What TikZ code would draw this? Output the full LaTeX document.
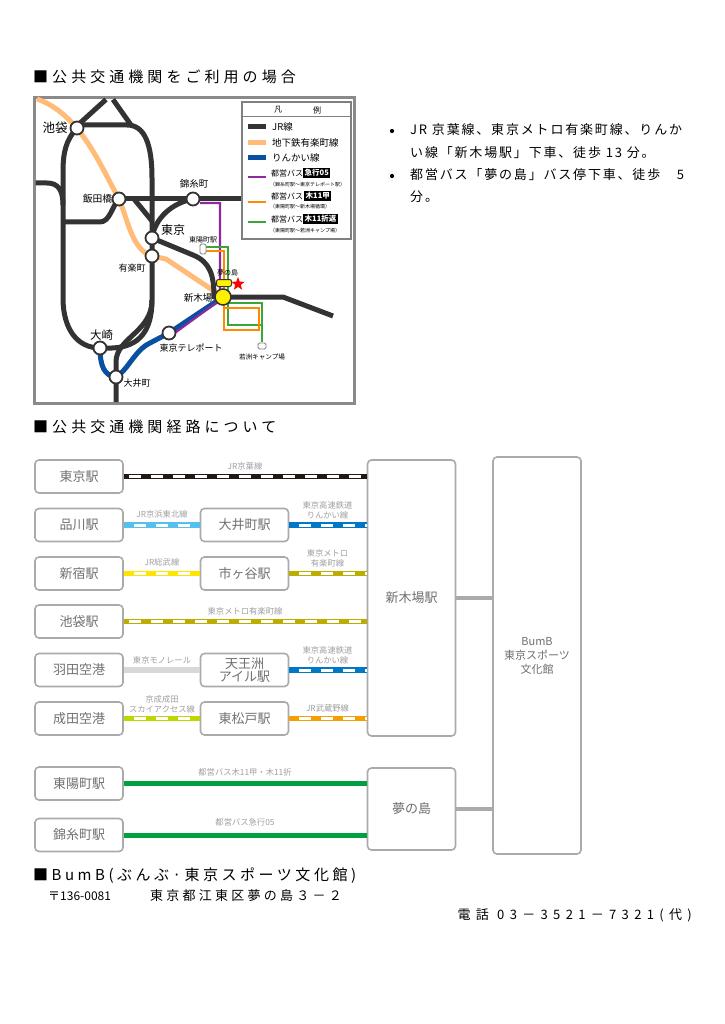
\documentclass[tikz,border=0pt]{standalone}
\usepackage{fontspec}
\setmainfont{Noto Sans CJK JP}
\newfontfamily\hfont[LetterSpace=27]{Noto Sans CJK JP}
\newfontfamily\hfontb[LetterSpace=23.5]{Noto Sans CJK JP}
\newfontfamily\bfont[LetterSpace=14]{Noto Sans CJK JP}
\newfontfamily\afont[LetterSpace=25]{Noto Sans CJK JP}
\newfontfamily\tfont[LetterSpace=41]{Noto Sans CJK JP}
\usetikzlibrary{shapes.geometric}
\newcommand{\fsz}[1]{\fontsize{#1pt}{#1pt}\selectfont}
\definecolor{jr}{HTML}{333333}
\definecolor{yura}{HTML}{FFBB77}
\definecolor{rinkai}{HTML}{0A50A0}
\definecolor{bpurple}{HTML}{8E2A9E}
\definecolor{borange}{HTML}{FF8A00}
\definecolor{bgreen}{HTML}{3AA53A}
\definecolor{framec}{HTML}{8A8A8A}
\definecolor{boxg}{HTML}{AAAAAA}
\definecolor{txtg}{HTML}{707070}
\definecolor{lblg}{HTML}{A0A0A0}
\definecolor{kblack}{HTML}{231815}
\definecolor{kht}{HTML}{55C0EE}
\definecolor{rblue}{HTML}{0078C8}
\definecolor{sobu}{HTML}{FFE400}
\definecolor{yuraku}{HTML}{BBAE00}
\definecolor{mono}{HTML}{D8D8D8}
\definecolor{skya}{HTML}{BFD600}
\definecolor{musa}{HTML}{F6A000}
\definecolor{busg}{HTML}{00A040}
\tikzset{
  jrl/.style={jr, line width=5pt, line join=round},
  busl/.style={line width=2.2pt, line join=miter},
  stn/.style={circle, draw=jr, fill=white, line width=1.8pt, minimum size=13pt, inner sep=0},
  mlbl/.style={inner sep=0, text=black},
  sbox/.style={draw=boxg, line width=1.6pt, rounded corners=4pt, fill=white, minimum width=88pt, minimum height=33pt, text=txtg, font=\fontsize{13pt}{13pt}\selectfont, align=center, inner sep=0},
  rail/.style={line width=5.5pt},
  railw/.style={draw=white, line width=3pt, dash pattern=on 12pt off 10pt},
  lbl/.style={text=lblg, font=\fontsize{8.3pt}{10pt}\selectfont, align=center, inner sep=0},
  tagbox/.style={fill=black, text=white, font=\fsz{7.5}\bfseries, inner xsep=1.5pt, inner ysep=1pt, minimum height=9pt},
  lgtxt/.style={anchor=west, inner sep=0, font=\fsz{9.5}},
  lgsm/.style={anchor=west, inner sep=0, font=\fsz{5}},
  bdot/.style={circle, fill=black, minimum size=4.2pt, inner sep=0}
}
\begin{document}
\begin{tikzpicture}[x=1pt,y=-1pt]
\useasboundingbox (0,0) rectangle (724,1024);
\fill[white] (0,0) rectangle (724,1024);

% ---------- headings ----------
\node[anchor=west, inner sep=0] (h1) at (33,77) {\hfont\fsz{15}■公共交通機関をご利用の場合};
\node[anchor=west, inner sep=0] (h2) at (33,427) {\hfont\fsz{15}■公共交通機関経路について};

% ---------- map ----------
\draw[framec, line width=3pt, fill=white] (34.5,98) rectangle (354.5,403.5);

\coordinate (pIke) at (77,128);
\coordinate (pIid) at (119,199);
\coordinate (pKin) at (193,199);
\coordinate (pTok) at (152,238);
\coordinate (pYur) at (152,256);
\coordinate (pShk) at (223,297);
\coordinate (pOsa) at (100,348);
\coordinate (pOim) at (116,377);
\coordinate (pTel) at (169,333);

% Yurakucho (orange)
\draw[yura, line width=5pt, line join=round] (37,99) .. controls (80,114) and (100,165) .. (pIid) .. controls (128,220) and (132,250) .. (pYur) -- (166,259) -- (pShk);

% JR lines
\draw[jrl] (pIke) .. controls (66,140) and (63,152) .. (63,172) -- (63,298) .. controls (63,330) and (78,348) .. (pOsa) -- (112,348) .. controls (140,347) and (152,330) .. (152,300) -- (152,178) .. controls (152,145) and (145,125) .. (127,125) -- (82,125);
\draw[jrl] (79,124) -- (106,99.5);
\draw[jrl] (113,99.5) -- (131,125);
\draw[jrl] (152,300) .. controls (152,332) and (116,338) .. (116,362) -- (116,402);
\draw[jrl] (35.5,183) -- (47,183) .. controls (58,183) and (63,190) .. (63,205);
\draw[jrl] (63,222) -- (100,222) .. controls (110,222) and (112,206) .. (pIid);
\draw[jrl] (pIid) -- (243,199);
\draw[jrl] (134,199) -- (152,221);
\draw[jrl] (pKin) .. controls (172,203) and (155,218) .. (pTok);
\draw[jrl] (pTok) -- (193,255) .. controls (210,262) and (214,275) .. (214,297) -- (pShk);
\draw[jrl] (pShk) -- (283,297) -- (333,316);

% Rinkai (blue)
\draw[rinkai, line width=5pt, line join=round] (pShk) -- (pTel) -- (150,343) .. controls (135,350) and (128,370) .. (pOim) .. controls (104,376) and (100,365) .. (pOsa);

% Buses
\draw[bpurple, busl] (200,203) -- (220,203) -- (220,300) -- (172,335);
\draw[bgreen, busl] (206,247) -- (228,247) -- (228,325) -- (262,325) -- (262,303) -- (228,303);
\draw[bgreen, busl] (262,325) -- (262,342);
\draw[borange, busl] (206,251) -- (224,251) -- (224,330) -- (259,330) -- (259,308) -- (224,308);

% stops
\node[draw=gray, fill=white, rounded corners=1.5pt, minimum width=6pt, minimum height=10pt, inner sep=0, line width=0.8pt] (stopT) at (203,249) {};
\node[draw=jr, fill=yellow, rounded corners=2pt, minimum width=15pt, minimum height=7pt, inner sep=0, line width=1pt] (stopY) at (224,283) {};
\node[draw=gray, fill=white, rounded corners=1.5pt, minimum width=8pt, minimum height=6pt, inner sep=0, line width=0.8pt] (stopW) at (262,346) {};

% stations
\node[stn] (ike) at (pIke) {};
\node[stn] (iid) at (pIid) {};
\node[stn] (kin) at (pKin) {};
\node[stn] (tok) at (pTok) {};
\node[stn] (yur) at (pYur) {};
\node[stn] (osa) at (pOsa) {};
\node[stn] (oim) at (pOim) {};
\node[stn] (tel) at (pTel) {};
\node[circle, draw=jr, fill=yellow, minimum size=16pt, line width=1.5pt, inner sep=0] (shk) at (pShk) {};
\node[star, star points=5, star point ratio=2.4, fill=red, minimum size=14pt, inner sep=0] (star) at (238,284) {};

% map labels
\node[mlbl, font=\fsz{12.5}] (lIke) at (55,128) {池袋};
\node[mlbl, font=\fsz{9.8}] (lIid) at (97.5,199) {飯田橋};
\node[mlbl, font=\fsz{9.5}] (lKin) at (194,184) {錦糸町};
\node[mlbl, font=\fsz{12}] (lTok) at (173,230) {東京};
\node[mlbl, font=\fsz{7}] (lToyo) at (203,240) {東陽町駅};
\node[mlbl, font=\fsz{9}] (lYur) at (132,268) {有楽町};
\node[mlbl, font=\fsz{7}] (lYume) at (227.5,273) {夢の島};
\node[mlbl, font=\fsz{9.5}] (lShk) at (198,298) {新木場};
\node[mlbl, font=\fsz{11.5}] (lOsa) at (101.5,335) {大崎};
\node[mlbl, font=\fsz{9}] (lOim) at (137,383) {大井町};
\node[mlbl, font=\fsz{9}] (lTel) at (191,348) {東京テレポート};
\node[mlbl, font=\fsz{6.6}] (lWak) at (262,357) {若洲キャンプ場};

% legend
\draw[gray, line width=1.3pt, fill=white] (242,102) rectangle (351,239);
\draw[gray, line width=1pt] (242,116.5) -- (351,116.5);
\node[inner sep=0, font=\fsz{8}] (lg1) at (278,110) {凡};
\node[inner sep=0, font=\fsz{8}] (lg2) at (317,110) {例};
\draw[jr, line width=5pt] (248,127) -- (266,127);
\node[lgtxt] (lgJR) at (272,127) {JR線};
\draw[yura, line width=5pt] (248,143) -- (266,143);
\node[lgtxt] (lgYu) at (272,143) {地下鉄有楽町線};
\draw[rinkai, line width=5pt] (248,158) -- (266,158);
\node[lgtxt] (lgRi) at (272,158) {りんかい線};
\draw[bpurple, line width=2.2pt] (248,177) -- (266,177);
\node[lgtxt, font=\fsz{8}] (lgP) at (271,173) {都営バス};
\node[tagbox, anchor=west] (tagP) at (303,173) {急行05};
\node[lgsm] (lgPs) at (270,185) {（錦糸町駅〜東京テレポート駅）};
\draw[borange, line width=2.2pt] (248,202) -- (266,202);
\node[lgtxt, font=\fsz{8}] (lgO) at (271,196) {都営バス};
\node[tagbox, anchor=west] (tagO) at (304,196) {木11甲};
\node[lgsm] (lgOs) at (270,207) {（東陽町駅〜新木場循環）};
\draw[bgreen, line width=2.2pt] (248,222) -- (266,222);
\node[lgtxt, font=\fsz{8}] (lgG) at (271,219) {都営バス};
\node[tagbox, anchor=west] (tagG) at (303,219) {木11折返};
\node[lgsm] (lgGs) at (270,231) {（東陽町駅〜若洲キャンプ場）};

% ---------- bullets ----------
\node[bdot] (bu1) at (392,131) {};
\node[bdot] (bu2) at (392,176) {};
\node[anchor=west, inner sep=0] (b1) at (410,130) {\bfont\fsz{13}JR 京葉線、東京メトロ有楽町線、りんか};
\node[anchor=west, inner sep=0] (b2) at (410,153) {\bfont\fsz{13}い線「新木場駅」下車、徒歩 13 分。};
\node[anchor=west, inner sep=0] (b3) at (410,175) {\bfont\fsz{13}都営バス「夢の島」バス停下車、徒歩　5};
\node[anchor=west, inner sep=0] (b4) at (410,197) {\bfont\fsz{13}分。};

% ---------- route diagram ----------
\node[sbox] (tokyo) at (79,476.5) {東京駅};
\node[sbox] (shina) at (79,525) {品川駅};
\node[sbox] (shinj) at (79,573.5) {新宿駅};
\node[sbox] (ikeb) at (79,621.5) {池袋駅};
\node[sbox] (haneda) at (79,670) {羽田空港};
\node[sbox] (narita) at (79,718.5) {成田空港};
\node[sbox] (toyo) at (79,783.5) {東陽町駅};
\node[sbox] (kinshi) at (79,835) {錦糸町駅};
\node[sbox] (oimachi) at (244.5,525) {大井町駅};
\node[sbox] (ichi) at (244.5,573.5) {市ヶ谷駅};
\node[sbox] (tennoz) at (244.5,670) {天王洲\\アイル駅};
\node[sbox] (higa) at (244.5,718.5) {東松戸駅};
\node[sbox, minimum height=276pt] (shinkiba) at (411.5,598) {新木場駅};
\node[sbox, minimum height=82pt] (yume) at (411.5,809) {夢の島};
\node[sbox, minimum height=397pt, font=\fontsize{11pt}{14pt}\selectfont] (bumb) at (537,655.5) {BumB\\東京スポーツ\\文化館};

% lines
\draw[kblack, rail] (tokyo.east) -- (shinkiba.west |- tokyo.east);
\draw[railw, dash phase=17pt] (tokyo.east) -- (shinkiba.west |- tokyo.east);
\draw[kht, rail] (shina.east) -- (oimachi.west);
\draw[railw, dash phase=12pt] (shina.east) -- (oimachi.west);
\draw[rblue, rail] (oimachi.east) -- (shinkiba.west |- oimachi.east);
\draw[railw, dash phase=12pt] (oimachi.east) -- (shinkiba.west |- oimachi.east);
\draw[sobu, rail] (shinj.east) -- (ichi.west);
\draw[railw, dash phase=12pt] (shinj.east) -- (ichi.west);
\draw[yuraku, rail] (ichi.east) -- (shinkiba.west |- ichi.east);
\draw[railw, dash phase=12pt] (ichi.east) -- (shinkiba.west |- ichi.east);
\draw[yuraku, rail] (ikeb.east) -- (shinkiba.west |- ikeb.east);
\draw[railw, dash phase=17pt] (ikeb.east) -- (shinkiba.west |- ikeb.east);
\draw[mono, rail] (haneda.east) -- (tennoz.west);
\draw[rblue, rail] (tennoz.east) -- (shinkiba.west |- tennoz.east);
\draw[railw, dash phase=12pt] (tennoz.east) -- (shinkiba.west |- tennoz.east);
\draw[skya, rail] (narita.east) -- (higa.west);
\draw[railw, dash phase=12pt] (narita.east) -- (higa.west);
\draw[musa, rail] (higa.east) -- (shinkiba.west |- higa.east);
\draw[railw, dash phase=12pt] (higa.east) -- (shinkiba.west |- higa.east);
\draw[busg, line width=5pt] (toyo.east) -- (yume.west |- toyo.east);
\draw[busg, line width=5pt] (kinshi.east) -- (yume.west |- kinshi.east);
\draw[boxg, line width=4.5pt] (shinkiba.east) -- (bumb.west |- shinkiba.east);
\draw[boxg, line width=4.5pt] (yume.east) -- (bumb.west |- yume.east);

% line labels
\node[lbl] (t1) at (245,466) {JR京葉線};
\node[lbl] (t2) at (162,514) {JR京浜東北線};
\node[lbl] (t3) at (327.5,510) {東京高速鉄道\\りんかい線};
\node[lbl] (t4) at (162,562) {JR総武線};
\node[lbl] (t5) at (327.5,558) {東京メトロ\\有楽町線};
\node[lbl] (t6) at (245,611) {東京メトロ有楽町線};
\node[lbl] (t7) at (162,660) {東京モノレール};
\node[lbl] (t8) at (327.5,655) {東京高速鉄道\\りんかい線};
\node[lbl] (t9) at (162,704.5) {京成成田\\スカイアクセス線};
\node[lbl] (t10) at (327.5,708) {JR武蔵野線};
\node[lbl] (t11) at (245,772) {都営バス木11甲・木11折};
\node[lbl] (t12) at (245,822) {都営バス急行05};

% ---------- address ----------
\node[anchor=west, inner sep=0] (h3) at (33,876) {\hfontb\fsz{15}■BumB(ぶんぶ·東京スポーツ文化館)};
\node[anchor=west, inner sep=0] (zip) at (48,896) {\fsz{12}〒136-0081};
\node[anchor=west, inner sep=0] (addr) at (150,896) {\afont\fsz{13}東京都江東区夢の島３－２};
\node[anchor=east, inner sep=0] (tel) at (692,915) {\tfont\fsz{13}電話 03－3521－7321(代)};
\end{tikzpicture}
\end{document}
